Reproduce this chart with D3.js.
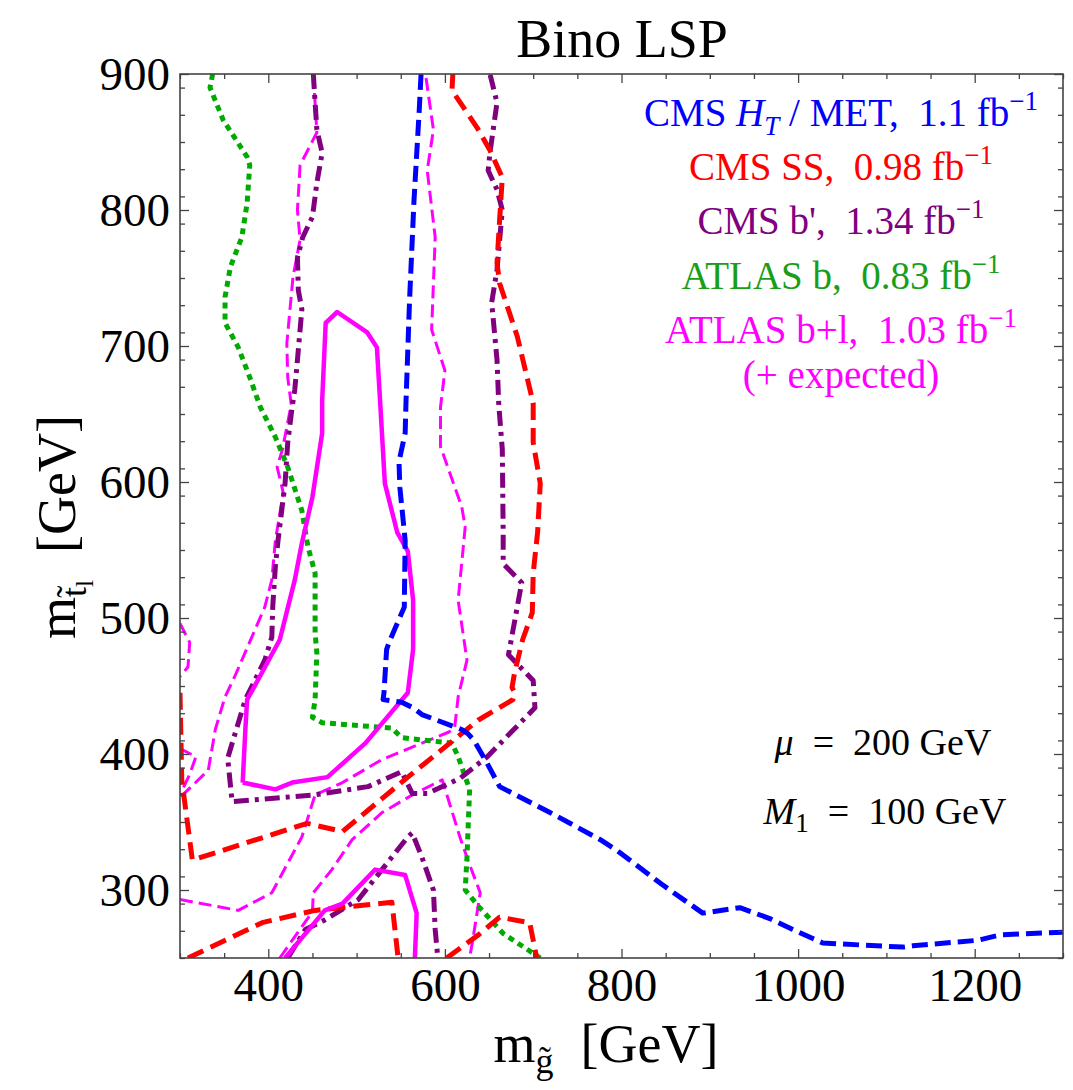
<!DOCTYPE html>
<html>
<head>
<meta charset="utf-8">
<script src="https://cdn.jsdelivr.net/npm/d3@7"></script>
<style>
  body { margin: 0; background: #fff; }
  text { font-family: "Liberation Serif", "Times New Roman", serif; white-space: pre; }
</style>
</head>
<body>
<div id="chart"></div>
<script>
// axis ranges and ticks
var xDomain = [300, 1300];
var yDomain = [250, 900];
var xMajor = [400, 600, 800, 1000, 1200];
var yMajor = [300, 400, 500, 600, 700, 800, 900];

// exclusion contours, [m_gluino, m_stop] in GeV
var cmsHtMet = [[573,900],[571,874],[565,807],[560,734],[556,660],[555,636],[548,615],[549,596],
  [555,557],[554,508],[538,484],[534,477],[531,445],[530,440],[551,438],[564,434],[574,429],
  [619,418],[626,415],[633,410],[648,393],[662,376],[674,372],[719,357],[776,337],[795,329],
  [846,304],[892,283],[934,287],[968,279],[994,271],[1028,261],[1119,258],[1130,259],
  [1203,263],[1229,267],[1300,269]];

var cmsSS_a = [[300,445],[302,381],[314,322],[444,349],[484,343],[558,383],[638,425],[677,440],
  [679,445],[676,449],[679,460],[688,484],[699,504],[700,533],[705,563],[708,599],[700,629],
  [700,658],[682,707],[662,746],[659,761],[662,793],[665,824],[651,844],[636,861],[608,888],[609,900]];
var cmsSS_b = [[309,250],[393,276],[453,285],[540,291],[547,250]];
var cmsSS_c = [[602,250],[638,267],[662,280],[696,276],[704,250]];

var cmsBp_a = [[451,900],[453,879],[455,859],[461,842],[455,820],[450,795],[439,780],[433,765],
  [434,741],[438,727],[434,697],[430,668],[427,655],[422,629],[419,599],[411,557],[408,538],
  [405,508],[404,486],[396,469],[374,440],[354,397],[359,365],[453,370],[513,376],[551,387],
  [563,371],[580,371],[617,382],[648,398],[702,434],[700,454],[672,473],[687,526],[666,540],
  [666,563],[665,624],[661,657],[659,690],[653,732],[659,756],[665,800],[659,815],[649,829],
  [651,842],[659,879],[651,900]];
var cmsBp_b = [[422,250],[442,271],[464,278],[502,293],[558,339],[563,342],[574,324],[587,300],
  [589,271],[592,250]];

var atlasB = [[337,900],[334,890],[349,866],[376,839],[379,833],[376,805],[370,780],[357,758],
  [351,736],[351,717],[366,699],[379,677],[391,655],[408,633],[422,611],[438,579],[445,552],
  [453,533],[453,489],[455,474],[453,440],[450,427],[461,423],[540,419],[551,412],[608,408],
  [615,398],[628,374],[625,324],[623,300],[638,288],[666,268],[708,250]];

var atlasBl_a = [[371,379],[374,418],[376,440],[382,447],[413,484],[430,528],[438,555],[450,589],
  [461,636],[461,660],[465,717],[478,725],[512,710],[523,699],[527,655],[532,599],[546,563],
  [558,549],[564,513],[564,477],[558,445],[510,408],[467,383],[427,379],[408,374],[371,379]];
var atlasBl_b = [[419,250],[464,285],[484,290],[521,315],[555,311],[568,283],[566,250]];

var atlasExp_a = [[451,900],[455,857],[436,833],[433,800],[436,778],[428,751],[421,702],[422,677],
  [426,657],[416,624],[410,611],[417,592],[408,557],[404,528],[396,508],[362,457],[351,442],
  [340,418],[332,388],[300,368]];
var atlasExp_d = [[300,404],[318,398],[311,385],[300,370]];
var atlasExp_e = [[300,496],[311,482],[309,464],[300,457]];
var atlasExp_f = [[300,293],[366,285],[404,298],[438,339],[453,370],[484,379],[529,396],[604,416],
  [611,419],[615,442],[625,469],[615,513],[623,567],[619,582],[595,626],[595,655],[600,682],
  [585,712],[589,780],[580,829],[587,859],[578,900]];
var atlasExp_g = [[413,250],[450,284],[451,298],[472,315],[495,337],[529,357],[566,371],[597,381],
  [617,339],[626,322],[640,298],[632,265],[628,250]];

var W = 1073, H = 1090;
var margin = {left: 180, right: 10, top: 74, bottom: 132};
var pw = W - margin.left - margin.right;
var ph = H - margin.top - margin.bottom;

var svg = d3.select('#chart').append('svg')
  .attr('width', W)
  .attr('height', H);

var x = d3.scaleLinear().domain(xDomain).range([0, pw]);
var y = d3.scaleLinear().domain(yDomain).range([ph, 0]);

svg.append('defs').append('clipPath').attr('id', 'plotclip')
  .append('rect').attr('width', pw).attr('height', ph);

var g = svg.append('g').attr('transform', 'translate(' + margin.left + ',' + margin.top + ')');

var line = d3.line().x(function (d) {return x(d[0]);}).y(function (d) {return y(d[1]);});

var curves = g.append('g').attr('clip-path', 'url(#plotclip)');

function drawCurve(pts, color, width, dash) {
  curves.append('path')
    .datum(pts)
    .attr('d', line)
    .attr('fill', 'none')
    .attr('stroke', color)
    .attr('stroke-width', width)
    .attr('stroke-linejoin', 'round')
    .attr('stroke-dasharray', dash);
}

var blue = '#0000ff', red = '#ff0000', purple = '#800080', green = '#00aa00', magenta = '#ff00ff';

[atlasExp_a, atlasExp_d, atlasExp_e, atlasExp_f, atlasExp_g].forEach(function (p) {
  drawCurve(p, magenta, 3, '13,6');
});
drawCurve(atlasB, green, 5, '6,5');
[cmsBp_a, cmsBp_b].forEach(function (p) { drawCurve(p, purple, 5, '15,6,4,6'); });
[cmsSS_a, cmsSS_b, cmsSS_c].forEach(function (p) { drawCurve(p, red, 5, '17,8'); });
[atlasBl_a, atlasBl_b].forEach(function (p) { drawCurve(p, magenta, 4.5, null); });
drawCurve(cmsHtMet, blue, 5, '16,7');

// axes: inward ticks on all four sides
var fontTick = 47;
function styleAxis(sel) {
  sel.select('.domain').remove();
  sel.selectAll('line').attr('stroke', '#444').attr('stroke-width', 1.3);
  sel.selectAll('text').attr('font-size', fontTick).attr('fill', '#000')
    .style('font-family', '"Liberation Serif", serif');
}
var xMinor = d3.range(xDomain[0], xDomain[1] + 1, 50).filter(function (v) {return xMajor.indexOf(v) < 0;});
var yMinor = d3.range(yDomain[0], yDomain[1] + 1, 20).filter(function (v) {return yMajor.indexOf(v) < 0;});

g.append('g').attr('transform', 'translate(0,' + ph + ')')
  .call(d3.axisBottom(x).tickValues(xMajor).tickSize(-9).tickPadding(10).tickFormat(d3.format('d')))
  .call(styleAxis);
g.append('g').attr('transform', 'translate(0,' + ph + ')')
  .call(d3.axisBottom(x).tickValues(xMinor).tickSize(-5).tickFormat(''))
  .call(styleAxis);
g.append('g')
  .call(d3.axisTop(x).tickValues(xMajor).tickSize(-9).tickFormat(''))
  .call(styleAxis);
g.append('g')
  .call(d3.axisTop(x).tickValues(xMinor).tickSize(-5).tickFormat(''))
  .call(styleAxis);
g.append('g')
  .call(d3.axisLeft(y).tickValues(yMajor).tickSize(-9).tickPadding(10).tickFormat(d3.format('d')))
  .call(styleAxis);
g.append('g')
  .call(d3.axisLeft(y).tickValues(yMinor).tickSize(-5).tickFormat(''))
  .call(styleAxis);
g.append('g').attr('transform', 'translate(' + pw + ',0)')
  .call(d3.axisRight(y).tickValues(yMajor).tickSize(-9).tickFormat(''))
  .call(styleAxis);
g.append('g').attr('transform', 'translate(' + pw + ',0)')
  .call(d3.axisRight(y).tickValues(yMinor).tickSize(-5).tickFormat(''))
  .call(styleAxis);

g.append('rect')
  .attr('width', pw).attr('height', ph)
  .attr('fill', 'none').attr('stroke', '#444').attr('stroke-width', 1.6);

// title and axis labels
svg.append('text')
  .attr('x', 622).attr('y', 57)
  .attr('text-anchor', 'middle')
  .attr('font-size', 54)
  .text('Bino LSP');

var xl = svg.append('text')
  .attr('x', 606).attr('y', 1062)
  .attr('text-anchor', 'middle')
  .attr('font-size', 54);
xl.append('tspan').text('m');
xl.append('tspan').attr('font-size', 36).attr('dy', 11).text('g\u0303');
xl.append('tspan').attr('dy', -11).text('  [GeV]');

var yl = svg.append('text')
  .attr('transform', 'translate(75,527) rotate(-90)')
  .attr('text-anchor', 'middle')
  .attr('font-size', 54);
yl.append('tspan').text('m');
yl.append('tspan').attr('font-size', 36).attr('dy', 11).text('t\u0303');
yl.append('tspan').attr('font-size', 25).attr('dy', 7).text('l');
yl.append('tspan').attr('dy', -18).text('  [GeV]');

// legend
var legendX = 841, fontLeg = 39;
var legendRows = [
  {color: blue, y: 126, parts: [['CMS '], ['H', 'i'], ['T', 'isub'], [' / MET,  1.1 fb'], ['\u22121', 'sup']]},
  {color: red, y: 180, parts: [['CMS SS,  0.98 fb'], ['\u22121', 'sup']]},
  {color: purple, y: 234, parts: [["CMS b',  1.34 fb"], ['\u22121', 'sup']]},
  {color: '#1a9e1a', y: 289, parts: [['ATLAS b,  0.83 fb'], ['\u22121', 'sup']]},
  {color: magenta, y: 343, parts: [['ATLAS b+l,  1.03 fb'], ['\u22121', 'sup']]},
  {color: magenta, y: 388, parts: [['(+ expected)']]}
];
legendRows.forEach(function (row) {
  var t = svg.append('text')
    .attr('x', legendX).attr('y', row.y)
    .attr('text-anchor', 'middle')
    .attr('font-size', fontLeg)
    .attr('fill', row.color);
  var shift = 0;
  row.parts.forEach(function (p) {
    var ts = t.append('tspan').text(p[0]);
    var target = 0, size = fontLeg;
    if (p[1] === 'i') { ts.attr('font-style', 'italic'); }
    if (p[1] === 'isub') { ts.attr('font-style', 'italic'); target = 9; size = 27; }
    if (p[1] === 'sup') { target = -16; size = 27; }
    ts.attr('font-size', size).attr('dy', target - shift);
    shift = target;
  });
});

// parameter annotations
var ann1 = svg.append('text').attr('x', 883).attr('y', 755).attr('text-anchor', 'middle').attr('font-size', 38);
ann1.append('tspan').attr('font-style', 'italic').text('\u03bc');
ann1.append('tspan').text('  =  200 GeV');
var ann2 = svg.append('text').attr('x', 885).attr('y', 824).attr('text-anchor', 'middle').attr('font-size', 38);
ann2.append('tspan').attr('font-style', 'italic').text('M');
ann2.append('tspan').attr('font-size', 27).attr('dy', 8).text('1');
ann2.append('tspan').attr('dy', -8).text('  =  100 GeV');
</script>
</body>
</html>
